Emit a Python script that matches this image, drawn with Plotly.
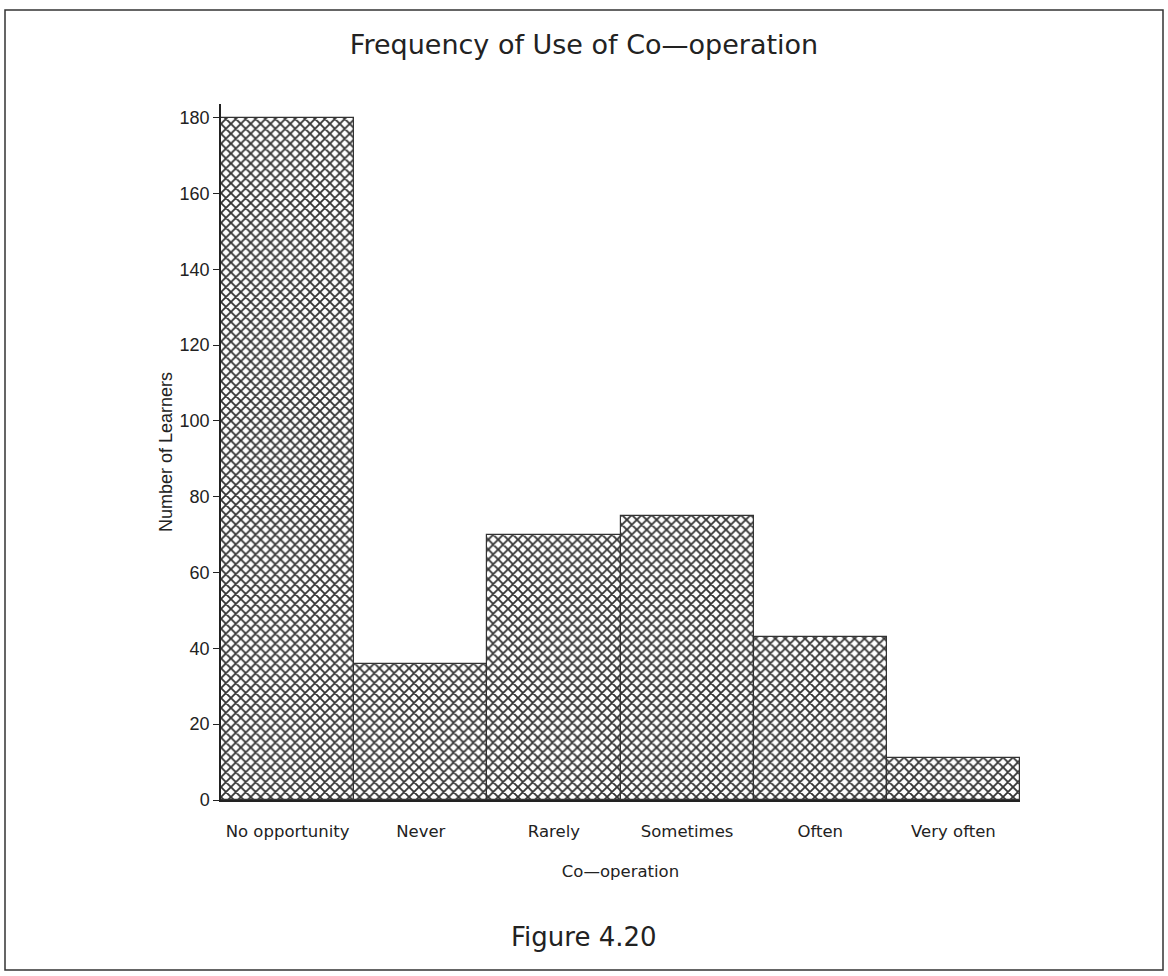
import plotly.graph_objects as go

categories = ["No opportunity", "Never", "Rarely", "Sometimes", "Often", "Very often"]
learners = [180, 36, 70, 75, 43, 11]
y_ticks = [0, 20, 40, 60, 80, 100, 120, 140, 160, 180]

W, H = 1168, 976
FONT = "DejaVu Sans, Verdana, sans-serif"
FONT2 = "Liberation Sans, Arial, sans-serif"

fig = go.Figure(go.Bar(
    x=categories, y=learners,
    marker=dict(color="white", line=dict(color="#333333", width=1.2),
                pattern=dict(shape="x", fgcolor="#333333", fgopacity=1, bgcolor="white",
                             size=7, solidity=0.45)),
    width=1.0,
))

x0, x1 = 221 / W, 1020 / W
y0, y1 = (H - 800) / H, (H - 104) / H

fig.update_layout(
    width=W, height=H, margin=dict(l=0, r=0, t=0, b=0),
    paper_bgcolor="white", plot_bgcolor="white",
    bargap=0, showlegend=False,
    font=dict(family=FONT, color="#222222"),
    title=dict(text="Frequency of Use of Co\u2014operation", x=0.5, xanchor="center",
               y=(H - 45) / H, yanchor="middle", font=dict(size=27, color="#222222")),
    xaxis=dict(domain=[x0, x1], type="category", range=[-0.5, 5.5],
               showline=True, linecolor="#222222", linewidth=2,
               ticks="outside", ticklen=15, tickcolor="rgba(0,0,0,0)",
               tickfont=dict(size=16.5), automargin=False,
               title=dict(text="Co\u2014operation", font=dict(size=16.5), standoff=26)),
    yaxis=dict(domain=[y0, y1], range=[0, 183.6], tickvals=y_ticks,
               showline=True, linecolor="#222222", linewidth=1.5,
               ticks="outside", ticklen=6, tickcolor="#222222",
               showgrid=False, zeroline=False, tickfont=dict(size=18, family=FONT2), automargin=False,
               title=dict(text="Number of Learners", font=dict(size=18, family=FONT2), standoff=2)),
    shapes=[dict(type="rect", xref="paper", yref="paper",
                 x0=5 / W, x1=1163 / W, y0=(H - 970) / H, y1=(H - 10) / H,
                 line=dict(color="#333333", width=1.5))],
    annotations=[dict(text="Figure 4.20", xref="paper", yref="paper",
                      x=0.5, y=(H - 937) / H, xanchor="center", yanchor="middle",
                      showarrow=False, font=dict(size=26, color="#222222"))],
)

fig.write_html("out.html", config={"displayModeBar": False},
               post_script="document.body.style.margin='0';document.body.style.overflow='hidden';")
